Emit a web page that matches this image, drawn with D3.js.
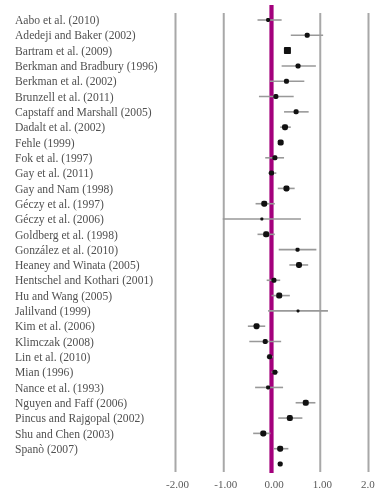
<!DOCTYPE html>
<html><head><meta charset="utf-8">
<script src="https://cdn.jsdelivr.net/npm/d3@7/dist/d3.min.js"></script>
<style>html,body{margin:0;padding:0;background:#fff;} svg{filter:blur(0.4px);} text{font-family:"Liberation Serif","Times New Roman","DejaVu Serif",serif;}</style>
</head><body><svg id="c" width="375" height="492"></svg>
<script>
const studies = ["Aabo et al. (2010)","Adedeji and Baker (2002)","Bartram et al. (2009)","Berkman and Bradbury (1996)","Berkman et al. (2002)","Brunzell et al. (2011)","Capstaff and Marshall (2005)","Dadalt et al. (2002)","Fehle (1999)","Fok et al. (1997)","Gay et al. (2011)","Gay and Nam (1998)","Géczy et al. (1997)","Géczy et al. (2006)","Goldberg et al. (1998)","González et al. (2010)","Heaney and Winata (2005)","Hentschel and Kothari (2001)","Hu and Wang (2005)","Jalilvand (1999)","Kim et al. (2006)","Klimczak (2008)","Lin et al. (2010)","Mian (1996)","Nance et al. (1993)","Nguyen and Faff (2006)","Pincus and Rajgopal (2002)","Shu and Chen (2003)","Spanò (2007)",""];
const effect = [-0.07,0.74,0.33,0.55,0.31,0.09,0.51,0.28,0.19,0.07,0.00,0.31,-0.15,-0.20,-0.11,0.54,0.57,0.05,0.16,0.55,-0.31,-0.13,-0.04,0.07,-0.07,0.71,0.38,-0.17,0.18,0.18];
const lower  = [-0.29,0.40,0.30,0.21,-0.04,-0.26,0.26,0.18,0.14,-0.13,-0.07,0.13,-0.33,-1.01,-0.29,0.15,0.37,-0.10,0.00,-0.07,-0.49,-0.46,-0.10,0.00,-0.34,0.50,0.14,-0.38,0.05,0.14];
const upper  = [0.21,1.07,0.37,0.92,0.68,0.46,0.77,0.40,0.24,0.26,0.10,0.48,0.07,0.61,0.07,0.93,0.76,0.18,0.38,1.17,-0.13,0.20,0.03,0.14,0.24,0.91,0.64,-0.02,0.35,0.22];
const weight = [4,5,7,5,5,5,5,6,6,5,5,6,6,3,6,4,6,5,6,3,6,5,5,5,4,6,6,6,6,5];
const ticks = [-2,-1,0,1,2];

const svg = d3.select("#c");
const x = d3.scaleLinear().domain([-2,2]).range([175,368]);
const y = d3.scalePoint().domain(d3.range(studies.length)).range([20,464]);

const axis = d3.axisBottom(x).tickValues(ticks)
  .tickFormat(d => d.toFixed(2))
  .tickSizeInner(-(472-13)).tickSizeOuter(0).tickPadding(8);
const g = svg.append("g").attr("transform","translate(0,472)").call(axis);
g.attr("font-family",null);
g.select(".domain").remove();
g.selectAll(".tick line").attr("stroke","#a8a8a8").attr("stroke-width",2);
g.selectAll(".tick text").attr("fill","#5a5a5a").attr("font-size",11).attr("dx",2);

svg.append("line").attr("x1",x(0)).attr("x2",x(0)).attr("y1",5).attr("y2",473)
  .attr("stroke","#a3007c").attr("stroke-width",4.2);

svg.append("g").selectAll("line").data(d3.range(effect.length)).join("line")
  .attr("x1",i=>x(lower[i])).attr("x2",i=>x(upper[i]))
  .attr("y1",i=>y(i)).attr("y2",i=>y(i))
  .attr("stroke","#999").attr("stroke-width",1.6);

svg.append("g").selectAll("rect").data(d3.range(effect.length)).join("rect")
  .attr("x",i=>x(effect[i])-weight[i]/2).attr("y",i=>y(i)-weight[i]/2)
  .attr("width",i=>weight[i]).attr("height",i=>weight[i])
  .attr("rx",i=>weight[i]<7?weight[i]*0.35:0.8)
  .attr("fill","#111");

svg.append("g").selectAll("text").data(studies).join("text")
  .attr("x",15).attr("y",(d,i)=>y(i)+1.5)
  .attr("dominant-baseline","middle")
  .attr("font-size",11.6)
  .attr("fill","#505050").text(d=>d);
</script></body></html>
